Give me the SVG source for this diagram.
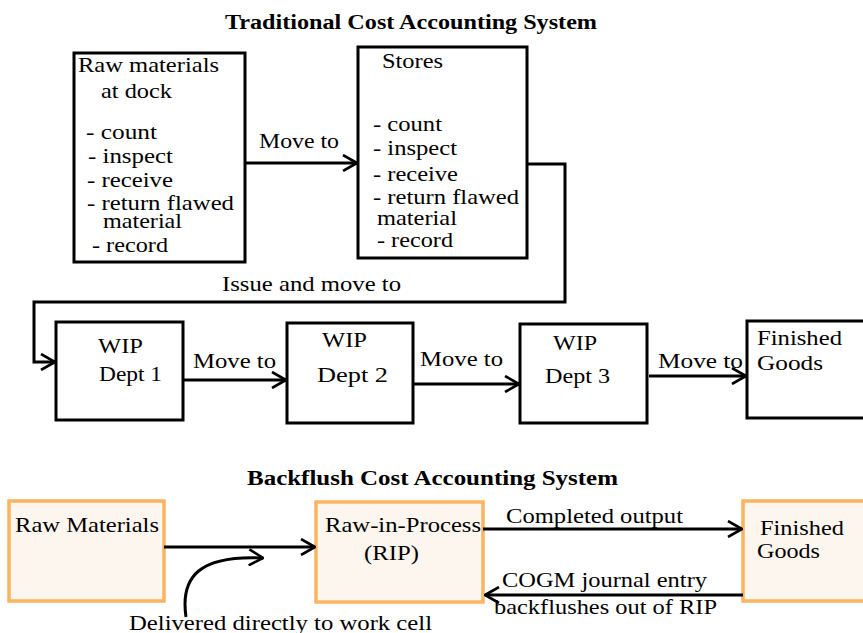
<svg xmlns="http://www.w3.org/2000/svg" width="863" height="633" viewBox="0 0 863 633">
<style>
text{font-family:"Liberation Serif","Times New Roman",serif;font-size:21px;fill:#000;}
.title{font-weight:bold;font-size:20px;}
.box{fill:#fff;stroke:#000;stroke-width:3;}
.obox{fill:#FDF6EF;stroke:#F9B560;stroke-width:3.5;}
.conn{fill:none;stroke:#000;stroke-width:3;}
</style>
<defs>
<marker id="arr" markerUnits="userSpaceOnUse" viewBox="0 0 16 18" refX="15" refY="9" markerWidth="16" markerHeight="18" orient="auto">
<path d="M1,1 L15,9 L1,17" fill="none" stroke="#000" stroke-width="2.6"/>
</marker>
</defs>
<rect width="863" height="633" fill="#fff"/>
<text class="title" x="225" y="29" textLength="372" lengthAdjust="spacingAndGlyphs">Traditional Cost Accounting System</text>
<text class="title" x="247" y="485" textLength="371" lengthAdjust="spacingAndGlyphs">Backflush Cost Accounting System</text>

<g id="raw-dock">
<rect class="box" x="74" y="53" width="171" height="209"/>
<text x="78" y="72" textLength="141" lengthAdjust="spacingAndGlyphs">Raw materials</text>
<text x="101" y="98" textLength="71" lengthAdjust="spacingAndGlyphs">at dock</text>
<text x="86" y="139" textLength="71" lengthAdjust="spacingAndGlyphs">- count</text>
<text x="88" y="163" textLength="85" lengthAdjust="spacingAndGlyphs">- inspect</text>
<text x="87" y="187" textLength="86" lengthAdjust="spacingAndGlyphs">- receive</text>
<text x="87" y="210" textLength="147" lengthAdjust="spacingAndGlyphs">- return flawed</text>
<text x="103" y="228" textLength="79" lengthAdjust="spacingAndGlyphs">material</text>
<text x="92" y="252" textLength="76" lengthAdjust="spacingAndGlyphs">- record</text>
</g>

<g id="stores">
<rect class="box" x="358" y="47" width="169" height="211"/>
<text x="382" y="68" textLength="61" lengthAdjust="spacingAndGlyphs">Stores</text>
<text x="373" y="131" textLength="69" lengthAdjust="spacingAndGlyphs">- count</text>
<text x="373" y="155" textLength="84" lengthAdjust="spacingAndGlyphs">- inspect</text>
<text x="373" y="181" textLength="85" lengthAdjust="spacingAndGlyphs">- receive</text>
<text x="373" y="204" textLength="146" lengthAdjust="spacingAndGlyphs">- return flawed</text>
<text x="377" y="225" textLength="80" lengthAdjust="spacingAndGlyphs">material</text>
<text x="377" y="247" textLength="76" lengthAdjust="spacingAndGlyphs">- record</text>
</g>

<g id="wip1">
<rect class="box" x="56" y="322" width="127" height="98"/>
<text x="98" y="353" textLength="45" lengthAdjust="spacingAndGlyphs">WIP</text>
<text x="99" y="381" textLength="63" lengthAdjust="spacingAndGlyphs">Dept 1</text>
</g>
<g id="wip2">
<rect class="box" x="287" y="323" width="126" height="100"/>
<text x="322" y="347" textLength="45" lengthAdjust="spacingAndGlyphs">WIP</text>
<text x="317" y="382" textLength="71" lengthAdjust="spacingAndGlyphs">Dept 2</text>
</g>
<g id="wip3">
<rect class="box" x="520" y="324" width="127" height="99"/>
<text x="553" y="350" textLength="44" lengthAdjust="spacingAndGlyphs">WIP</text>
<text x="545" y="383" textLength="65" lengthAdjust="spacingAndGlyphs">Dept 3</text>
</g>
<g id="fg-top">
<rect class="box" x="747" y="321" width="125" height="97"/>
<text x="757" y="345" textLength="85" lengthAdjust="spacingAndGlyphs">Finished</text>
<text x="757" y="370" textLength="66" lengthAdjust="spacingAndGlyphs">Goods</text>
</g>

<g id="raw-materials">
<rect class="obox" x="9" y="501" width="155" height="100"/>
<text x="15" y="532" textLength="144" lengthAdjust="spacingAndGlyphs">Raw Materials</text>
</g>
<g id="rip">
<rect class="obox" x="316" y="502" width="167" height="100"/>
<text x="325" y="532" textLength="156" lengthAdjust="spacingAndGlyphs">Raw-in-Process</text>
<text x="364" y="560" textLength="55" lengthAdjust="spacingAndGlyphs">(RIP)</text>
</g>
<g id="fg-bottom">
<rect class="obox" x="743" y="501" width="130" height="100"/>
<text x="760" y="535" textLength="84" lengthAdjust="spacingAndGlyphs">Finished</text>
<text x="757" y="558" textLength="63" lengthAdjust="spacingAndGlyphs">Goods</text>
</g>

<g id="connectors">
<path class="conn" d="M245,163 H357" marker-end="url(#arr)"/>
<text x="259" y="148" textLength="80" lengthAdjust="spacingAndGlyphs">Move to</text>
<path class="conn" d="M527,164 H565 V302 H34 V362 H55" marker-end="url(#arr)"/>
<text x="222" y="291" textLength="179" lengthAdjust="spacingAndGlyphs">Issue and move to</text>
<path class="conn" d="M183,380 H286" marker-end="url(#arr)"/>
<text x="193" y="368" textLength="83" lengthAdjust="spacingAndGlyphs">Move to</text>
<path class="conn" d="M413,384 H519" marker-end="url(#arr)"/>
<text x="420" y="366" textLength="83" lengthAdjust="spacingAndGlyphs">Move to</text>
<path class="conn" d="M649,376 H746" marker-end="url(#arr)"/>
<text x="658" y="368" textLength="85" lengthAdjust="spacingAndGlyphs">Move to</text>

<path class="conn" d="M164,547 H315" marker-end="url(#arr)"/>
<path class="conn" d="M186,617 C180,576 200,555 263,558" stroke-width="2.5" marker-end="url(#arr)"/>
<text x="129" y="630" textLength="303" lengthAdjust="spacingAndGlyphs">Delivered directly to work cell</text>
<path class="conn" d="M483,529 H742" marker-end="url(#arr)"/>
<text x="506" y="523" textLength="177" lengthAdjust="spacingAndGlyphs">Completed output</text>
<path class="conn" d="M743,595 H485" marker-end="url(#arr)"/>
<text x="502" y="587" textLength="205" lengthAdjust="spacingAndGlyphs">COGM journal entry</text>
<text x="494" y="614" textLength="223" lengthAdjust="spacingAndGlyphs">backflushes out of RIP</text>
</g>
</svg>
